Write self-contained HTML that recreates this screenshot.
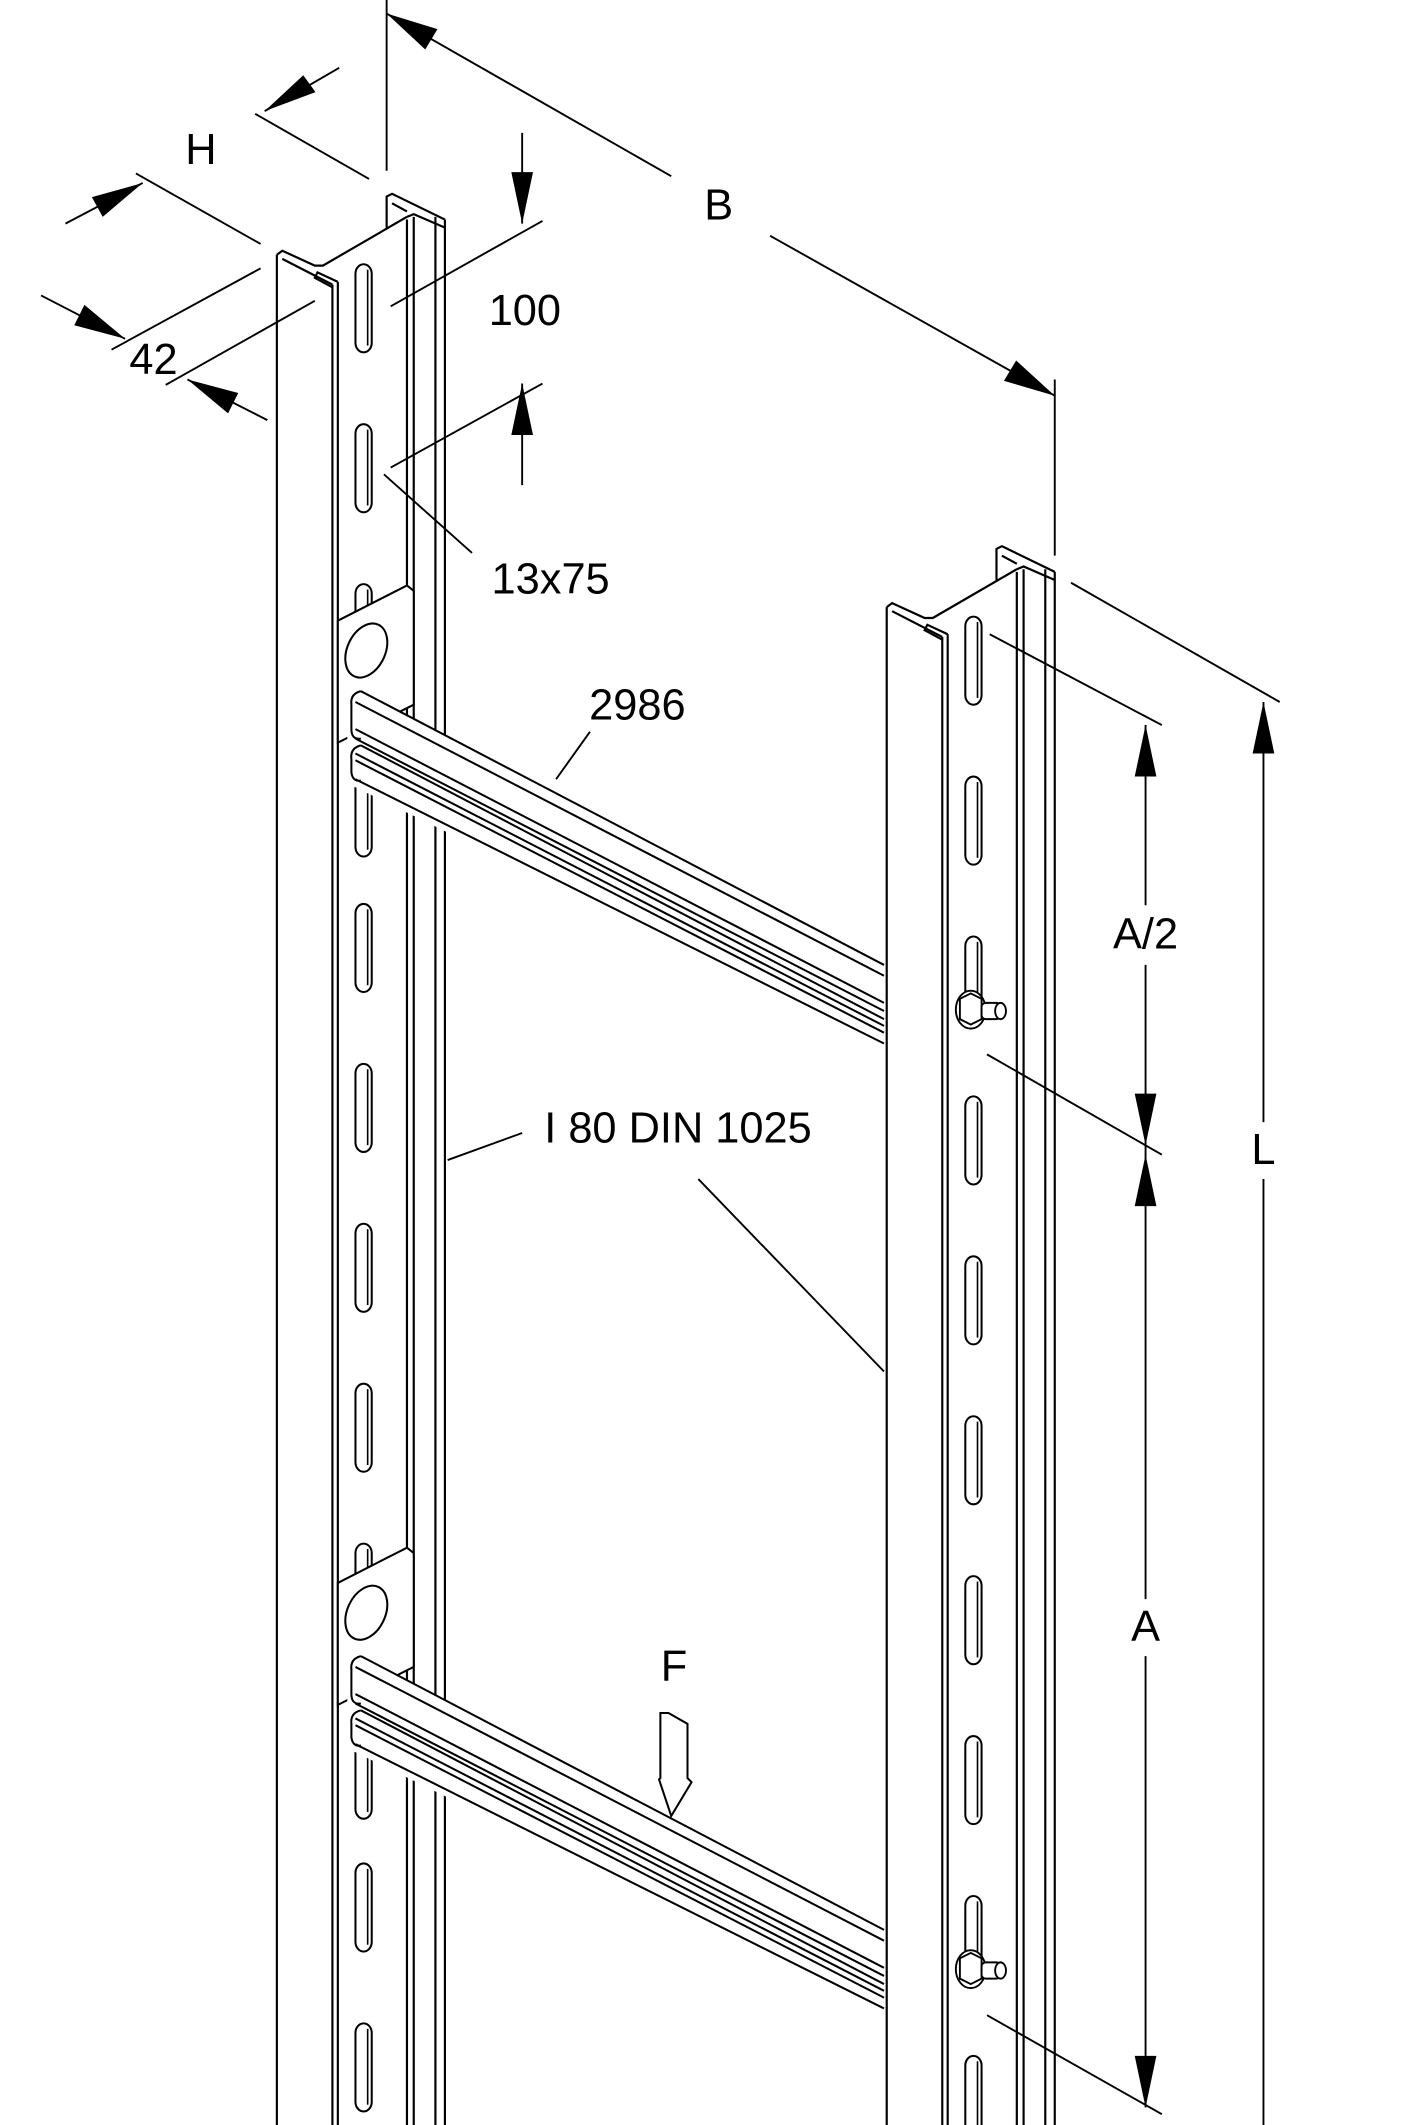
<!DOCTYPE html>
<html><head><meta charset="utf-8"><style>
html,body{margin:0;padding:0;background:#fff;width:1417px;height:2125px;overflow:hidden;}
svg{display:block}
text{font-family:"Liberation Sans",sans-serif;font-size:32px;fill:#000}
</style></head><body>
<svg width="1417" height="2125" viewBox="0 0 1045 1568" xmlns="http://www.w3.org/2000/svg">
<defs>
<g id="slot"><rect x="0" y="0" width="12" height="65" rx="6" ry="7" fill="none" stroke="#000" stroke-width="1.5"/><line x1="9" y1="4" x2="9" y2="60" stroke="#000" stroke-width="1.2"/></g>
<g id="rail" fill="none" stroke="#000" stroke-width="1.6">
 <line x1="204" y1="188" x2="204" y2="1568"/>
 <line x1="245" y1="210" x2="245" y2="1568"/>
 <line x1="249" y1="208" x2="249" y2="1568"/>
 <line x1="300" y1="162" x2="300" y2="1568"/>
 <line x1="305" y1="160" x2="305" y2="1568"/>
 <line x1="321" y1="160" x2="321" y2="1568"/>
 <line x1="328" y1="162" x2="328" y2="1568"/>
 <polyline points="204,188 208,185 232,196 238,196 300,160"/>
 <polyline points="300,160 305,158 328,168"/>
 <polyline points="285,168 285,145 289,143 328,162"/>
 <polyline points="245,210 208,191"/>
 <polyline points="249,208 234,201 232,205 245,212"/>
 <line x1="289" y1="150" x2="300" y2="156"/>
</g>
<polygon id="rungfill" points="256,512 262,508 652,712 652,772 256,578" fill="#fff" stroke="none"/>
<g id="rung" fill="none" stroke="#000" stroke-width="1.5">
 <use href="#rungfill"/>
 <line x1="266" y1="510" x2="652" y2="712"/>
 <line x1="262" y1="518" x2="652" y2="720"/>
 <line x1="262" y1="538" x2="652" y2="740"/>
 <line x1="262" y1="545" x2="652" y2="746"/>
 <line x1="266" y1="550" x2="652" y2="752"/>
 <line x1="262" y1="556" x2="652" y2="757"/>
 <line x1="262" y1="561" x2="652" y2="762"/>
 <line x1="262" y1="575" x2="652" y2="770"/>
 <path d="M266,510 Q258,512 259,520 L259,538 Q259,546 266,545"/>
 <path d="M266,550 Q258,552 259,560 L259,570 Q260,577 266,576"/>
</g>
<g id="bolt" fill="#fff" stroke="#000" stroke-width="1.4">
 <ellipse cx="716" cy="745" rx="11" ry="14"/>
 <polygon points="708,737 716,733 724,737 724,752 716,756 708,752"/>
 <rect x="724" y="740" width="14" height="12" rx="3"/>
 <ellipse cx="738" cy="746" rx="4" ry="6"/>
</g>
</defs>

<use href="#rail"/>
<g>
<use href="#slot" x="262" y="195"/><use href="#slot" x="262" y="313"/><use href="#slot" x="262" y="431"/>
<use href="#slot" x="262" y="567"/><use href="#slot" x="262" y="667"/><use href="#slot" x="262" y="785"/>
<use href="#slot" x="262" y="903"/><use href="#slot" x="262" y="1021"/><use href="#slot" x="262" y="1139"/>
<use href="#slot" x="262" y="1277"/><use href="#slot" x="262" y="1375"/><use href="#slot" x="262" y="1493"/>
</g>
<g fill="#fff" stroke="#000" stroke-width="1.5">
 <polygon points="249,458 300,432 305,436 305,520 249,548"/>
 <ellipse cx="270" cy="480" rx="14" ry="21" transform="rotate(25 270 480)"/>
 <polygon points="249,1168 300,1142 305,1146 305,1230 249,1258"/>
 <ellipse cx="270" cy="1190" rx="14" ry="21" transform="rotate(25 270 1190)"/>
</g>
<use href="#rung"/>
<use href="#rung" transform="translate(0,712)"/>

<rect x="654" y="400" width="130" height="1168" fill="#fff"/>
<use href="#rail" transform="translate(450,260)"/>
<g>
<use href="#slot" x="712" y="455"/><use href="#slot" x="712" y="573"/><use href="#slot" x="712" y="691"/>
<use href="#slot" x="712" y="809"/><use href="#slot" x="712" y="927"/><use href="#slot" x="712" y="1045"/>
<use href="#slot" x="712" y="1163"/><use href="#slot" x="712" y="1281"/><use href="#slot" x="712" y="1399"/>
<use href="#slot" x="712" y="1517"/>
</g>
<use href="#bolt"/>
<use href="#bolt" transform="translate(0,708)"/>

<g fill="none" stroke="#000" stroke-width="1.4">
 <line x1="285" y1="0" x2="285" y2="126"/>
 <line x1="285" y1="10" x2="495" y2="130"/>
 <line x1="568" y1="174" x2="778" y2="292"/>
 <line x1="778" y1="280" x2="778" y2="410"/>
 <line x1="188" y1="84" x2="272" y2="132"/>
 <line x1="195" y1="82" x2="250" y2="50"/>
 <line x1="100" y1="128" x2="192" y2="180"/>
 <line x1="48" y1="165" x2="105" y2="135"/>
 <line x1="192" y1="198" x2="82" y2="258"/>
 <line x1="30" y1="218" x2="92" y2="250"/>
 <line x1="232" y1="222" x2="122" y2="284"/>
 <line x1="138" y1="280" x2="197" y2="310"/>
 <line x1="385" y1="98" x2="385" y2="165"/>
 <line x1="288" y1="226" x2="400" y2="163"/>
 <line x1="288" y1="345" x2="400" y2="283"/>
 <line x1="385" y1="283" x2="385" y2="358"/>
 <line x1="283" y1="350" x2="348" y2="408"/>
 <line x1="435" y1="540" x2="410" y2="575"/>
 <line x1="385" y1="836" x2="330" y2="856"/>
 <line x1="515" y1="870" x2="652" y2="1012"/>
 <line x1="730" y1="468" x2="857" y2="535"/>
 <line x1="790" y1="430" x2="944" y2="518"/>
 <line x1="728" y1="778" x2="857" y2="852"/>
 <line x1="728" y1="1487" x2="857" y2="1560"/>
 <line x1="845" y1="535" x2="845" y2="668"/>
 <line x1="845" y1="712" x2="845" y2="1180"/>
 <line x1="845" y1="1222" x2="845" y2="1555"/>
 <line x1="932" y1="518" x2="932" y2="828"/>
 <line x1="932" y1="870" x2="932" y2="1568"/>
</g>
<g fill="#000" stroke="none">
 <polygon points="285,10 322.5,21.5 313.5,36.5"/>
 <polygon points="778,292 749.5,266 740.5,281"/>
 <polygon points="195,82 232.5,68 223.5,55.5"/>
 <polygon points="105,135 75.5,160 67.5,145.5"/>
 <polygon points="92,250 54.5,240 62,225"/>
 <polygon points="138,280 175.5,290 168,305"/>
 <polygon points="385,165 377,127 393,127"/>
 <polygon points="385,283 377,321 393,321"/>
 <polygon points="845,535 837,573 853,573"/>
 <polygon points="845,845 837,807 853,807"/>
 <polygon points="845,852 837,890 853,890"/>
 <polygon points="845,1555 837,1517 853,1517"/>
 <polygon points="932,518 924,556 940,556"/>
</g>
<polygon points="487,1264 493,1264 507,1272 507,1312 510,1315 495,1340 486,1313 487,1312" fill="#fff" stroke="#000" stroke-width="1.5"/>

<text x="148" y="121" text-anchor="middle">H</text>
<text x="530" y="162" text-anchor="middle">B</text>
<text x="113" y="276" text-anchor="middle">42</text>
<text x="387" y="240" text-anchor="middle">100</text>
<text x="406" y="438" text-anchor="middle">13x75</text>
<text x="470" y="531" text-anchor="middle">2986</text>
<text x="500" y="843" text-anchor="middle">I 80 DIN 1025</text>
<text x="845" y="700" text-anchor="middle">A/2</text>
<text x="932" y="859" text-anchor="middle">L</text>
<text x="845" y="1211" text-anchor="middle">A</text>
<text x="497" y="1240" text-anchor="middle">F</text>
</svg>
</body></html>
